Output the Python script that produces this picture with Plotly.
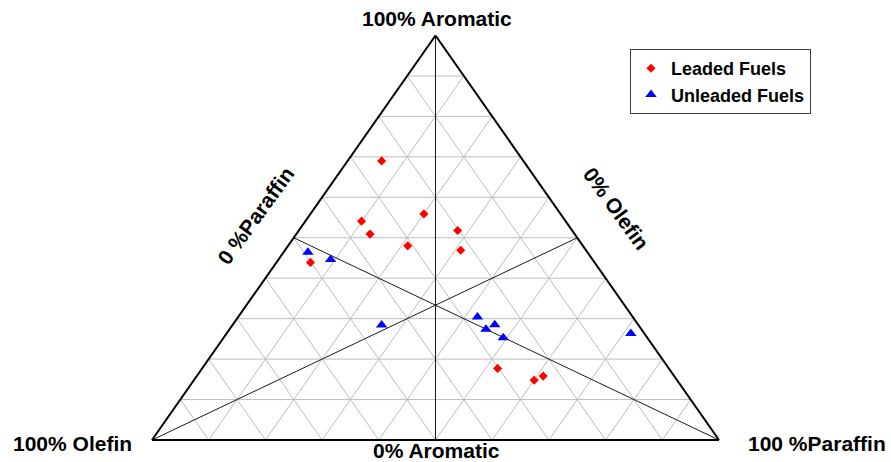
import plotly.graph_objects as go

# ---------------- data (percent) ----------------
leaded_aromatic = [69.0, 55.9, 54.1, 50.9, 51.8, 48.0, 46.9, 43.9, 17.7, 14.8, 15.8]
leaded_paraffin = [6.0, 20.0, 9.9, 13.0, 28.0, 21.1, 31.0, 6.0, 52.1, 60.0, 61.1]
leaded_olefin = [25.0, 24.1, 36.0, 36.1, 20.2, 30.9, 22.1, 50.1, 30.2, 25.2, 23.1]

unleaded_aromatic = [46.4, 44.6, 28.4, 30.4, 27.4, 28.5, 25.3, 26.3]
unleaded_paraffin = [4.3, 9.2, 26.3, 42.2, 45.2, 46.2, 49.3, 71.3]
unleaded_olefin = [49.3, 46.2, 45.3, 27.4, 27.4, 25.3, 25.4, 2.4]

grid_levels = [10, 20, 30, 40, 50, 60, 70, 80, 90]

# ---------------- helpers ----------------
def to_xy(a, p, o):
    t = a + p + o
    a, p = a / t, p / t
    return p + a / 2.0, a

def pts(alist, plist, olist):
    xs, ys = [], []
    for a, p, o in zip(alist, plist, olist):
        x, y = to_xy(a, p, o)
        xs.append(x)
        ys.append(y)
    return xs, ys

def segs(seglist):
    xs, ys = [], []
    for (a1, p1, o1), (a2, p2, o2) in seglist:
        x1, y1 = to_xy(a1, p1, o1)
        x2, y2 = to_xy(a2, p2, o2)
        xs += [x1, x2, None]
        ys += [y1, y2, None]
    return xs, ys

# grid segments (ternary coords A, P, O)
grid = []
for g in grid_levels:
    grid.append(((g, 0, 100 - g), (g, 100 - g, 0)))      # constant aromatic
    grid.append(((0, g, 100 - g), (100 - g, g, 0)))      # constant paraffin
    grid.append(((0, 100 - g, g), (100 - g, 0, g)))      # constant olefin

medians = [
    ((100, 0, 0), (0, 50, 50)),
    ((0, 0, 100), (50, 50, 0)),
    ((0, 100, 0), (50, 0, 50)),
]
border = [((100, 0, 0), (0, 0, 100)), ((0, 0, 100), (0, 100, 0)), ((0, 100, 0), (100, 0, 0))]

fig = go.Figure()

gx, gy = segs(grid)
fig.add_trace(go.Scatter(x=gx, y=gy, mode="lines", line=dict(color="#bdbdbd", width=1),
                         hoverinfo="skip", showlegend=False))
mx, my = segs(medians)
fig.add_trace(go.Scatter(x=mx, y=my, mode="lines", line=dict(color="#1a1a1a", width=1),
                         hoverinfo="skip", showlegend=False))
bx, by = segs(border)
fig.add_trace(go.Scatter(x=bx, y=by, mode="lines", line=dict(color="#000000", width=2),
                         hoverinfo="skip", showlegend=False))

lx, ly = pts(leaded_aromatic, leaded_paraffin, leaded_olefin)
fig.add_trace(go.Scatter(x=lx, y=ly, mode="markers", name="Leaded Fuels",
                         marker=dict(symbol="diamond", size=7, color="#ff0000")))
ux, uy = pts(unleaded_aromatic, unleaded_paraffin, unleaded_olefin)
fig.add_trace(go.Scatter(x=ux, y=uy, mode="markers", name="Unleaded Fuels",
                         marker=dict(symbol="triangle-up", size=10, color="#0000ff")))

W, H = 891, 462
X0, X1 = 152.0, 719.0
YB, YT = 440.0, 35.5
sx = X1 - X0
sy = YB - YT

lab_font = dict(family="Liberation Sans, Arial, sans-serif", size=21, color="#000000", weight="bold")

def ann(text, px, py, angle=0):
    return dict(text=text, x=px / W, y=1 - py / H, xref="paper", yref="paper",
                showarrow=False, textangle=angle, font=lab_font,
                xanchor="center", yanchor="middle")

fig.update_layout(
    width=W, height=H,
    margin=dict(l=0, r=0, t=0, b=0),
    paper_bgcolor="white", plot_bgcolor="white",
    xaxis=dict(range=[-X0 / sx, (W - X0) / sx], visible=False, fixedrange=True),
    yaxis=dict(range=[(YB - H) / sy, YB / sy], visible=False, fixedrange=True),
    showlegend=True,
    legend=dict(x=811 / W, y=1 - 49 / H, xanchor="right", yanchor="top",
                bgcolor="white", bordercolor="#404040", borderwidth=1,
                font=dict(family="Liberation Sans, Arial, sans-serif", size=18,
                          color="#000000", weight="bold")),
    annotations=[
        ann("100% Aromatic", 437, 18),
        ann("0% Aromatic", 436, 450),
        ann("100% Olefin", 72, 443),
        ann("100 %Paraffin", 817, 443),
        ann("0 %Paraffin", 256, 216, -54),
        ann("0% Olefin", 616, 209, 54),
    ],
)

fig.write_html("out.html", config={"displayModeBar": False},
               post_script="document.body.style.margin='0';document.body.style.overflow='hidden';")
